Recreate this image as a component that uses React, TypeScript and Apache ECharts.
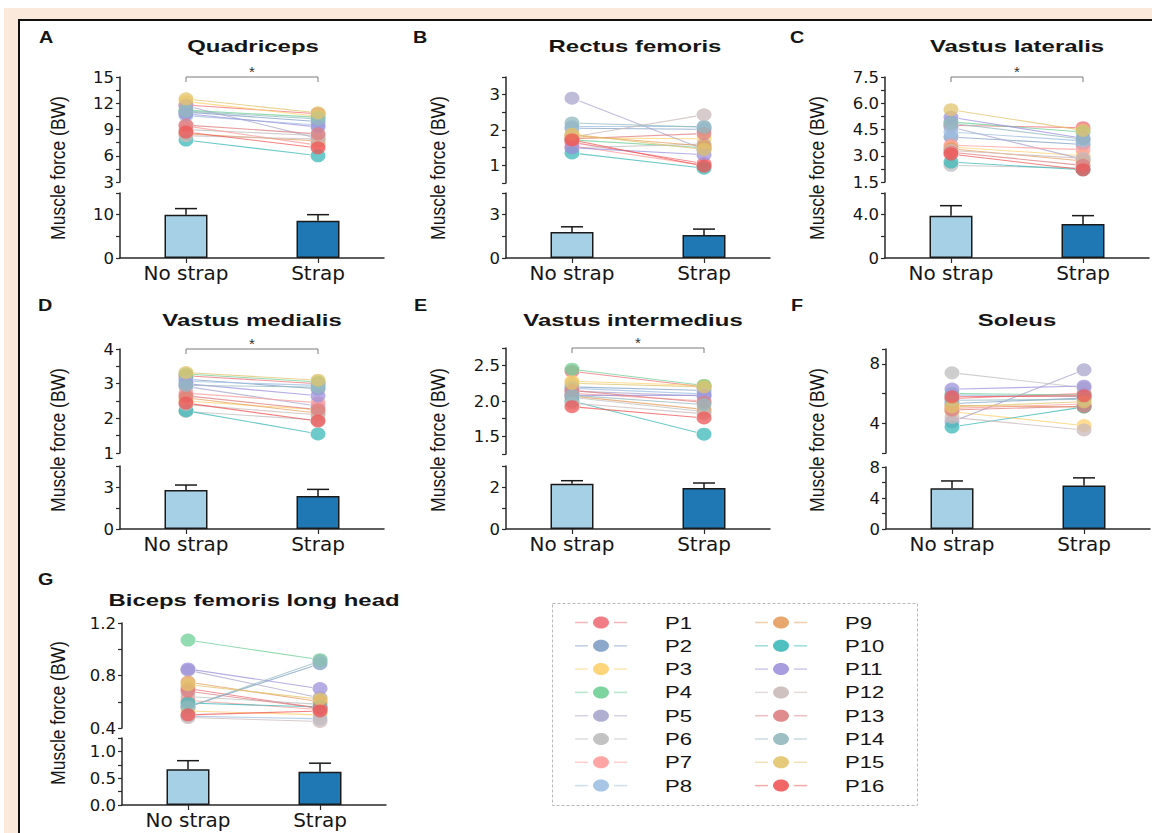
import React, { useEffect, useRef } from "react";
import * as echarts from "echarts";

const categories = ["No strap", "Strap"];
const participants = ["P1", "P2", "P3", "P4", "P5", "P6", "P7", "P8", "P9", "P10", "P11", "P12", "P13", "P14", "P15", "P16"];
const participantColors = ["#ee6f78", "#7f9fc4", "#fdd26e", "#6fcf95", "#a9a6cc", "#bdbdbd", "#ff9b9b", "#9dbfe2", "#e49d5e", "#3cb8b8", "#9e92dc", "#cbbaba", "#dd7f82", "#93b9bf", "#e2c46e", "#ef5555"];
const barColors = ["#a6d0e5", "#1f78b4"];

// A – Quadriceps
const quadricepsNoStrap = [11.8, 11.0, 12.2, 11.2, 11.7, 9.0, 9.4, 10.6, 8.5, 7.8, 10.8, 8.3, 9.5, 11.1, 12.5, 8.7];
const quadricepsStrap = [10.8, 9.9, 10.5, 10.4, 8.0, 8.3, 7.2, 9.5, 7.7, 6.0, 9.3, 7.9, 8.5, 10.2, 10.9, 6.9];
const quadricepsMean = [10.0, 8.6];
const quadricepsSD = [1.4, 1.4];
const quadricepsScatterTicks = ["3", "6", "9", "12", "15"];
const quadricepsBarTicks = ["0", "10"];

// B – Rectus femoris
const rectusNoStrap = [1.65, 2.05, 1.78, 1.72, 2.9, 1.5, 1.55, 2.1, 1.85, 1.35, 1.5, 1.8, 1.75, 2.2, 1.88, 1.72];
const rectusStrap = [1.05, 2.02, 1.75, 1.5, 1.45, 1.6, 1.0, 2.1, 1.55, 0.92, 1.3, 2.43, 1.9, 2.08, 1.45, 0.98];
const rectusMean = [1.8, 1.6];
const rectusSD = [0.36, 0.4];
const rectusScatterTicks = ["1", "2", "3"];
const rectusBarTicks = ["0", "3"];

// C – Vastus lateralis
const lateralisNoStrap = [4.74, 4.07, 3.5, 4.93, 4.64, 2.45, 3.6, 4.36, 3.4, 2.64, 5.2, 3.3, 3.2, 4.85, 5.63, 3.1];
const lateralisStrap = [4.6, 3.65, 3.0, 4.35, 2.8, 2.3, 3.35, 3.85, 2.7, 2.2, 4.0, 2.85, 2.45, 3.95, 4.45, 2.2];
const lateralisMean = [3.9, 3.15];
const lateralisSD = [0.93, 0.76];
const lateralisScatterTicks = ["1.5", "3.0", "4.5", "6.0", "7.5"];
const lateralisBarTicks = ["0", "4.0"];

// D – Vastus medialis
const medialisNoStrap = [3.23, 3.13, 2.5, 3.28, 2.92, 2.2, 2.73, 3.07, 2.59, 2.22, 3.0, 2.4, 2.65, 2.95, 3.32, 2.44];
const medialisStrap = [3.0, 2.85, 2.25, 3.05, 2.35, 1.95, 2.45, 2.95, 2.15, 1.55, 2.65, 2.1, 2.25, 2.9, 3.1, 1.92];
const medialisMean = [2.79, 2.36];
const medialisSD = [0.35, 0.47];
const medialisScatterTicks = ["1", "2", "3", "4"];
const medialisBarTicks = ["0", "3"];

// E – Vastus intermedius
const intermediusNoStrap = [2.42, 2.2, 2.28, 2.45, 2.14, 2.05, 2.11, 2.18, 2.07, 2.0, 2.08, 1.97, 2.15, 2.08, 2.25, 1.92];
const intermediusStrap = [2.2, 2.15, 2.22, 2.22, 2.07, 1.85, 2.0, 2.1, 1.88, 1.53, 2.08, 1.82, 1.98, 1.95, 2.2, 1.76];
const intermediusMean = [2.16, 1.95];
const intermediusSD = [0.14, 0.24];
const intermediusScatterTicks = ["1.5", "2.0", "2.5"];
const intermediusBarTicks = ["0", "2"];

// F – Soleus
const soleusNoStrap = [5.67, 5.33, 4.78, 6.0, 4.1, 7.4, 5.0, 5.9, 5.2, 3.75, 6.3, 4.4, 4.9, 5.55, 5.1, 5.78];
const soleusStrap = [6.0, 5.7, 3.85, 5.9, 7.6, 6.4, 5.3, 5.8, 5.1, 5.1, 6.5, 3.55, 5.15, 5.6, 5.45, 5.85];
const soleusMean = [5.25, 5.6];
const soleusSD = [0.95, 1.0];
const soleusScatterTicks = ["4", "8"];
const soleusBarTicks = ["0", "4", "8"];

// G – Biceps femoris long head
const bicepsNoStrap = [0.7, 0.56, 0.53, 1.07, 0.84, 0.64, 0.61, 0.49, 0.75, 0.59, 0.85, 0.48, 0.68, 0.56, 0.73, 0.5];
const bicepsStrap = [0.55, 0.89, 0.5, 0.92, 0.63, 0.58, 0.54, 0.47, 0.6, 0.56, 0.7, 0.45, 0.55, 0.91, 0.62, 0.53];
const bicepsMean = [0.667, 0.62];
const bicepsSD = [0.16, 0.16];
const bicepsScatterTicks = ["0.4", "0.8", "1.2"];
const bicepsBarTicks = ["0.0", "0.5", "1.0"];

type PanelDef = {
  letter: string; title: string;
  noStrap: number[]; strap: number[]; mean: number[]; sd: number[];
  sMin: number; sMax: number; sStep: number; sLabels: string[];
  bMin: number; bMax: number; bStep: number; bLabels: string[];
  sig: boolean;
  left: number; sTop: number; sBottom: number; bTop: number; bBottom: number;
  titleX: number; titleY: number; letterX: number; letterY: number; nameX: number; nameY: number;
};

const panels: PanelDef[] = [
  { letter: "A", title: "Quadriceps", noStrap: quadricepsNoStrap, strap: quadricepsStrap, mean: quadricepsMean, sd: quadricepsSD,
    sMin: 3, sMax: 15, sStep: 1.5, sLabels: quadricepsScatterTicks, bMin: 0, bMax: 15, bStep: 5, bLabels: quadricepsBarTicks, sig: true,
    left: 120, sTop: 77, sBottom: 182, bTop: 193, bBottom: 258, titleX: 253, titleY: 46, letterX: 39, letterY: 38, nameX: 58, nameY: 168 },
  { letter: "B", title: "Rectus femoris", noStrap: rectusNoStrap, strap: rectusStrap, mean: rectusMean, sd: rectusSD,
    sMin: 0.5, sMax: 3.5, sStep: 0.5, sLabels: rectusScatterTicks, bMin: 0, bMax: 4.5, bStep: 1.5, bLabels: rectusBarTicks, sig: false,
    left: 506, sTop: 77, sBottom: 183, bTop: 193, bBottom: 258, titleX: 635, titleY: 46, letterX: 413, letterY: 38, nameX: 438, nameY: 168 },
  { letter: "C", title: "Vastus lateralis", noStrap: lateralisNoStrap, strap: lateralisStrap, mean: lateralisMean, sd: lateralisSD,
    sMin: 1.5, sMax: 7.5, sStep: 0.75, sLabels: lateralisScatterTicks, bMin: 0, bMax: 6, bStep: 2, bLabels: lateralisBarTicks, sig: true,
    left: 885, sTop: 77, sBottom: 182, bTop: 193, bBottom: 258, titleX: 1017, titleY: 46, letterX: 790, letterY: 38, nameX: 817, nameY: 168 },
  { letter: "D", title: "Vastus medialis", noStrap: medialisNoStrap, strap: medialisStrap, mean: medialisMean, sd: medialisSD,
    sMin: 1, sMax: 4, sStep: 0.5, sLabels: medialisScatterTicks, bMin: 0, bMax: 4.5, bStep: 1.5, bLabels: medialisBarTicks, sig: true,
    left: 120, sTop: 349, sBottom: 453, bTop: 466, bBottom: 529, titleX: 252, titleY: 320, letterX: 38, letterY: 306, nameX: 58, nameY: 440 },
  { letter: "E", title: "Vastus intermedius", noStrap: intermediusNoStrap, strap: intermediusStrap, mean: intermediusMean, sd: intermediusSD,
    sMin: 1.25, sMax: 2.75, sStep: 0.25, sLabels: intermediusScatterTicks, bMin: 0, bMax: 3, bStep: 1, bLabels: intermediusBarTicks, sig: true,
    left: 506, sTop: 348, sBottom: 454, bTop: 466, bBottom: 529, titleX: 633, titleY: 320, letterX: 414, letterY: 306, nameX: 438, nameY: 440 },
  { letter: "F", title: "Soleus", noStrap: soleusNoStrap, strap: soleusStrap, mean: soleusMean, sd: soleusSD,
    sMin: 2, sMax: 9, sStep: 2, sLabels: soleusScatterTicks, bMin: 0, bMax: 8, bStep: 2, bLabels: soleusBarTicks, sig: false,
    left: 886, sTop: 349, sBottom: 453, bTop: 467, bBottom: 529, titleX: 1017, titleY: 320, letterX: 791, letterY: 306, nameX: 817, nameY: 440 },
  { letter: "G", title: "Biceps femoris long head", noStrap: bicepsNoStrap, strap: bicepsStrap, mean: bicepsMean, sd: bicepsSD,
    sMin: 0.4, sMax: 1.2, sStep: 0.2, sLabels: bicepsScatterTicks, bMin: 0, bMax: 1.25, bStep: 0.25, bLabels: bicepsBarTicks, sig: false,
    left: 122, sTop: 623, sBottom: 728, bTop: 738, bBottom: 805, titleX: 254, titleY: 600, letterX: 38, letterY: 580, nameX: 58, nameY: 713 },
];

const AXIS_COLOR = "#2a2a2a";
const TEXT_COLOR = "#151515";
const TICK_FONT = "DejaVu Sans";
const GRID_W = 264;

function labelFormatter(labels: string[]) {
  return (v: number) => {
    const hit = labels.find((l) => Math.abs(parseFloat(l) - v) < 1e-6);
    return hit ?? "";
  };
}

function valueAxis(gridIndex: number, min: number, max: number, interval: number, labels: string[]) {
  return {
    type: "value",
    gridIndex,
    min,
    max,
    interval,
    splitLine: { show: false },
    axisLine: { show: true, lineStyle: { color: AXIS_COLOR, width: 1.5 } },
    axisTick: { show: true, length: 4, lineStyle: { color: AXIS_COLOR, width: 1.2 } },
    axisLabel: {
      show: true,
      margin: 6,
      fontSize: 16.5,
      fontFamily: TICK_FONT,
      color: TEXT_COLOR,
      showMaxLabel: true,
      showMinLabel: true,
      formatter: labelFormatter(labels),
    },
  };
}

function buildOption() {
  const grid: any[] = [];
  const xAxis: any[] = [];
  const yAxis: any[] = [];
  const series: any[] = [];
  const elements: any[] = [];

  panels.forEach((p, i) => {
    const gs = 2 * i;
    const gb = 2 * i + 1;
    grid.push({ left: p.left, top: p.sTop, width: GRID_W, height: p.sBottom - p.sTop, containLabel: false });
    grid.push({ left: p.left, top: p.bTop, width: GRID_W, height: p.bBottom - p.bTop, containLabel: false });
    xAxis.push({ type: "category", gridIndex: gs, data: categories, boundaryGap: true, show: false });
    xAxis.push({
      type: "category",
      gridIndex: gb,
      data: categories,
      boundaryGap: true,
      axisLine: { show: true, onZero: false, lineStyle: { color: AXIS_COLOR, width: 1.5 } },
      axisTick: { show: true, alignWithLabel: true, length: 5, lineStyle: { color: AXIS_COLOR, width: 1.2 } },
      axisLabel: { margin: 5, fontSize: 20, fontFamily: TICK_FONT, color: TEXT_COLOR, interval: 0 },
    });
    yAxis.push(valueAxis(gs, p.sMin, p.sMax, p.sStep, p.sLabels));
    yAxis.push(valueAxis(gb, p.bMin, p.bMax, p.bStep, p.bLabels));

    // connecting lines per participant
    series.push({
      type: "custom",
      name: p.title + " lines",
      xAxisIndex: gs,
      yAxisIndex: gs,
      encode: { x: [0, 2], y: [1, 3] },
      data: participants.map((_, k) => [0, p.noStrap[k], 1, p.strap[k], k]),
      renderItem: (_params: any, api: any) => {
        const a = api.coord([api.value(0), api.value(1)]);
        const b = api.coord([api.value(2), api.value(3)]);
        const dx = b[0] - a[0];
        const dy = b[1] - a[1];
        const len = Math.hypot(dx, dy) || 1;
        const s = 8 / len;
        const k = api.value(4);
        return {
          type: "line",
          shape: { x1: a[0] + dx * s, y1: a[1] + dy * s, x2: b[0] - dx * s, y2: b[1] - dy * s },
          style: { stroke: participantColors[k], lineWidth: 1.1, opacity: 0.75 },
        };
      },
      z: 2,
      silent: true,
    });

    // participant dots
    const dots: any[] = [];
    participants.forEach((name, k) => {
      dots.push({ name, value: [0, p.noStrap[k]], itemStyle: { color: participantColors[k] } });
      dots.push({ name, value: [1, p.strap[k]], itemStyle: { color: participantColors[k] } });
    });
    series.push({
      type: "scatter",
      name: p.title + " participants",
      xAxisIndex: gs,
      yAxisIndex: gs,
      symbol: "circle",
      symbolSize: [15, 13],
      itemStyle: { opacity: 0.75 },
      data: dots,
      clip: false,
      z: 3,
    });

    if (p.sig) {
      series.push({
        type: "custom",
        name: p.title + " significance",
        xAxisIndex: gs,
        yAxisIndex: gs,
        encode: { x: [0, 1], y: 2 },
        data: [[0, 1, p.sMax]],
        renderItem: (_params: any, api: any) => {
          const a = api.coord([api.value(0), api.value(2)]);
          const b = api.coord([api.value(1), api.value(2)]);
          return {
            type: "group",
            children: [
              {
                type: "polyline",
                shape: { points: [[a[0], a[1] + 5], [a[0], a[1]], [b[0], b[1]], [b[0], b[1] + 5]] },
                style: { stroke: "#7a7a7a", lineWidth: 1, fill: null },
              },
              {
                type: "text",
                x: (a[0] + b[0]) / 2,
                y: a[1] - 6,
                style: { text: "*", fill: "#333", font: '15px "Liberation Sans", Arial, sans-serif', align: "center", verticalAlign: "middle" },
              },
            ],
          };
        },
        z: 4,
        silent: true,
      });
    }

    // bars
    series.push({
      type: "bar",
      name: p.title + " mean",
      xAxisIndex: gb,
      yAxisIndex: gb,
      barWidth: 43,
      data: p.mean.map((m, k) => ({ value: m, itemStyle: { color: barColors[k] } })),
      itemStyle: { borderColor: "#1a1a1a", borderWidth: 1.5 },
      z: 2,
    });
    // error bars (upper only)
    series.push({
      type: "custom",
      name: p.title + " SD",
      xAxisIndex: gb,
      yAxisIndex: gb,
      encode: { x: 0, y: [1, 2] },
      data: p.mean.map((m, k) => [k, m, m + p.sd[k]]),
      renderItem: (_params: any, api: any) => {
        const base = api.coord([api.value(0), api.value(1)]);
        const top = api.coord([api.value(0), api.value(2)]);
        const st = { stroke: "#1a1a1a", lineWidth: 1.5 };
        return {
          type: "group",
          children: [
            { type: "line", shape: { x1: base[0], y1: base[1], x2: top[0], y2: top[1] }, style: st },
            { type: "line", shape: { x1: top[0] - 11, y1: top[1], x2: top[0] + 11, y2: top[1] }, style: st },
          ],
        };
      },
      z: 1,
      silent: true,
    });

    // texts
    elements.push({
      type: "text",
      x: p.titleX,
      y: p.titleY,
      scaleX: 1.45,
      style: { text: p.title, fill: TEXT_COLOR, font: 'bold 16.5px "Liberation Sans", Arial, sans-serif', align: "center", verticalAlign: "middle" },
    });
    elements.push({
      type: "text",
      x: p.letterX,
      y: p.letterY,
      scaleX: 1.2,
      style: { text: p.letter, fill: TEXT_COLOR, font: 'bold 16.5px "Liberation Sans", Arial, sans-serif', align: "left", verticalAlign: "middle" },
    });
    elements.push({
      type: "text",
      x: p.nameX,
      y: p.nameY,
      rotation: Math.PI / 2,
      scaleY: 1.2,
      style: { text: "Muscle force (BW)", fill: TEXT_COLOR, font: '17.5px "Liberation Sans", Arial, sans-serif', align: "center", verticalAlign: "middle" },
    });
  });

  // legend box
  elements.push({
    type: "rect",
    shape: { x: 552.5, y: 603.5, width: 365, height: 202 },
    style: { fill: "none", stroke: "#b8b8b8", lineWidth: 1, lineDash: [3, 2] },
  });
  participants.forEach((name, k) => {
    const col = Math.floor(k / 8);
    const row = k % 8;
    const cy = 622.5 + row * 23.3;
    const cx = 601 + col * 180;
    const color = participantColors[k];
    elements.push({ type: "line", shape: { x1: cx - 26, y1: cy, x2: cx - 13, y2: cy }, style: { stroke: color, lineWidth: 1.5, opacity: 0.5 } });
    elements.push({ type: "line", shape: { x1: cx + 13, y1: cy, x2: cx + 26, y2: cy }, style: { stroke: color, lineWidth: 1.5, opacity: 0.5 } });
    elements.push({ type: "ellipse", shape: { cx, cy, rx: 8, ry: 6 }, style: { fill: color, opacity: 0.9 } });
    elements.push({
      type: "text",
      x: cx + 64,
      y: cy,
      scaleX: 1.3,
      style: { text: name, fill: TEXT_COLOR, font: '17px "Liberation Sans", Arial, sans-serif', align: "left", verticalAlign: "middle" },
    });
  });

  return {
    animation: false,
    grid,
    xAxis,
    yAxis,
    series,
    graphic: { elements },
  };
}

export default function App() {
  const ref = useRef<HTMLDivElement>(null);
  useEffect(() => {
    if (!ref.current) return;
    const chart = echarts.init(ref.current, undefined, { renderer: "svg" });
    chart.setOption(buildOption() as any);
    return () => chart.dispose();
  }, []);
  return (
    <div style={{ position: "fixed", left: 0, top: 0, width: 1152, height: 833, background: "#ffffff", overflow: "hidden" }}>
      <div style={{ position: "absolute", left: 4, top: 8, width: 1148, height: 825, background: "#fbe9dc" }} />
      <div
        style={{
          position: "absolute",
          left: 18,
          top: 19,
          width: 1134,
          height: 814,
          background: "#ffffff",
          borderLeft: "2px solid #111",
          borderTop: "2px solid #111",
          boxSizing: "border-box",
        }}
      />
      <div ref={ref} style={{ position: "absolute", left: 0, top: 0, width: 1152, height: 833 }} />
    </div>
  );
}
